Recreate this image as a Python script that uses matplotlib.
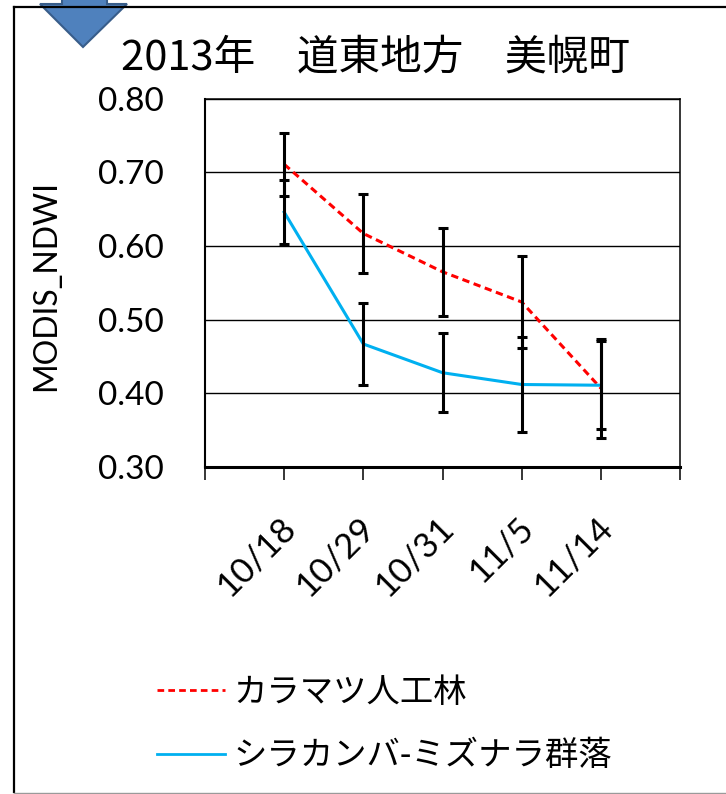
import matplotlib
matplotlib.use("Agg")
import matplotlib.pyplot as plt
from matplotlib.lines import Line2D
from matplotlib.patches import Polygon
from matplotlib.font_manager import FontProperties
import matplotlib.transforms as mtransforms

# ---- data ----
categories = ["10/18", "10/29", "10/31", "11/5", "11/14"]
larch_values = [0.711, 0.617, 0.565, 0.524, 0.407]
larch_errors = [0.043, 0.054, 0.060, 0.062, 0.067]
birch_values = [0.646, 0.467, 0.428, 0.412, 0.411]
birch_errors = [0.043, 0.056, 0.054, 0.065, 0.060]
series_labels = ["カラマツ人工林", "シラカンバ-ミズナラ群落"]
yticks = [0.30, 0.40, 0.50, 0.60, 0.70, 0.80]
title_text = "2013年　道東地方　美幌町"
ylabel_text = "MODIS_NDWI"

plt.rcParams['font.family'] = ['Lato', 'Noto Sans CJK JP', 'DejaVu Sans']

W, H = 726, 794
fig = plt.figure(figsize=(W / 100, H / 100), dpi=100)

def fx(px):
    return px / W

def fy(py):
    return 1 - py / H

ax = fig.add_axes([fx(205), fy(467), fx(680) - fx(205), fy(98.7) - fy(467)])

x = list(range(len(categories)))

l1, = ax.plot(x, larch_values, color="#FF0000", lw=2.2, dashes=(2.4, 1.5), zorder=3)
l2, = ax.plot(x, birch_values, color="#00B0F0", lw=2.2, zorder=3)
ax.errorbar(x, larch_values, yerr=larch_errors, fmt='none', ecolor='black',
            elinewidth=2.2, capsize=3.4, capthick=2.2, zorder=4)
ax.errorbar(x, birch_values, yerr=birch_errors, fmt='none', ecolor='black',
            elinewidth=2.2, capsize=3.4, capthick=2.2, zorder=4)

ax.set_xlim(-1, len(categories))
ax.set_ylim(0.30, 0.80)
ax.set_yticks(yticks)
ax.set_yticklabels([f"{v:.2f}" for v in yticks])
ax.yaxis.grid(True, color='black', lw=1.0)
ax.set_axisbelow(True)
ax.tick_params(axis='y', length=0, pad=30, labelsize=24)

tick_pos = list(range(-1, len(categories) + 1))
ax.set_xticks(tick_pos)
ax.set_xticklabels([""] + categories + [""])
ax.tick_params(axis='x', length=9, width=1.1, direction='out', pad=31, labelsize=25)
offset = mtransforms.ScaledTranslation(6 / 100, 0, fig.dpi_scale_trans)
for lab in ax.get_xticklabels():
    lab.set_rotation(45)
    lab.set_ha('right')
    lab.set_va('center')
    lab.set_rotation_mode('anchor')
    lab.set_transform(lab.get_transform() + offset)

for side, lw in [('left', 1.5), ('bottom', 2.2), ('top', 1.1), ('right', 1.1)]:
    ax.spines[side].set_linewidth(lw)
    ax.spines[side].set_color('black')

fig.text(fx(46), fy(286), ylabel_text, rotation=90, ha='center', va='center',
         fontsize=23, family=['Lato'])

fig.text(fx(375), fy(58), title_text, ha='center', va='center',
         fontsize=30, family=['Noto Sans CJK JP'])

leg = fig.legend([l1, l2], series_labels, loc='center left',
                 bbox_to_anchor=(fx(157), fy(724)), frameon=False,
                 prop=FontProperties(family='Noto Sans CJK JP', size=24),
                 handlelength=2.05, handletextpad=0.25, labelspacing=0.85,
                 borderaxespad=0, borderpad=0)
for h in leg.get_lines():
    h.set_linewidth(2.0)

# outer frame
fig.add_artist(Line2D([fx(14), fx(14)], [fy(7), fy(792)], color='black', lw=1.6))
fig.add_artist(Line2D([fx(14), fx(730)], [fy(7), fy(7)], color='black', lw=1.6))
fig.add_artist(Line2D([fx(14), fx(730)], [fy(792.5), fy(792.5)], color='#9A9A9A', lw=1.0))

# decorative down arrow (partially visible at top)
arrow_px = [(62, -10), (107, -10), (107, 4), (127, 4), (83, 47), (40, 4), (62, 4)]
fig.add_artist(Polygon([(fx(a), fy(b)) for a, b in arrow_px], closed=True,
                       facecolor='#4F81BD', edgecolor='#385D8A', lw=1.5))

fig.savefig("out.png", dpi=100)
